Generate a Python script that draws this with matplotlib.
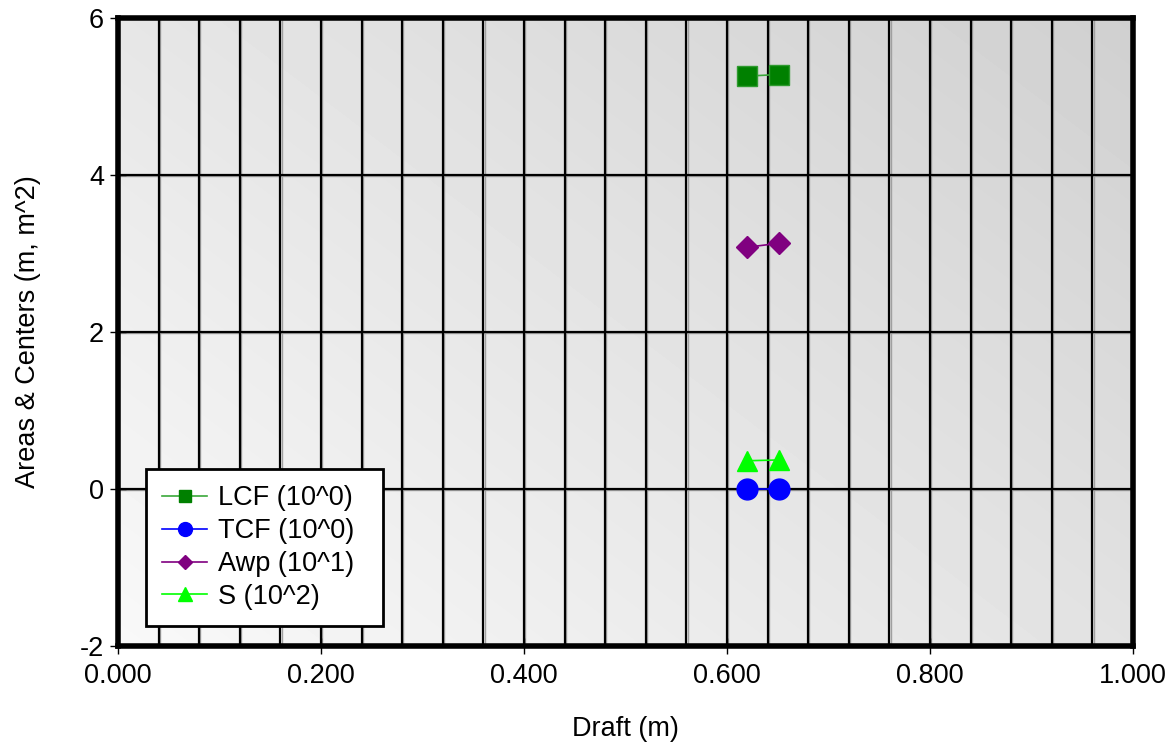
import matplotlib
matplotlib.use("Agg")
import matplotlib.pyplot as plt
import numpy as np
from matplotlib.lines import Line2D

plt.rcParams['font.family'] = ['Liberation Sans', 'DejaVu Sans']
plt.rcParams['axes.unicode_minus'] = False

draft = [0.620, 0.651]
lcf = [5.26, 5.28]
tcf = [0.0, 0.0]
awp = [3.08, 3.13]
s = [0.36, 0.37]

labels = ["LCF (10^0)", "TCF (10^0)", "Awp (10^1)", "S (10^2)"]
xticks = [0.0, 0.2, 0.4, 0.6, 0.8, 1.0]
xticklabels = ["0.000", "0.200", "0.400", "0.600", "0.800", "1.000"]
yticks = [-2, 0, 2, 4, 6]

FS = 19.5

fig = plt.figure(figsize=(11.75, 7.47), dpi=100)
ax = fig.add_axes([118/1175, 1-646/747, (1133-118)/1175, (646-18)/747])

# gradient background
n = 200
gx, gy = np.meshgrid(np.linspace(0, 1, n), np.linspace(0, 1, n))
g = 0.975 - 0.16 * (0.55 * gx + 0.45 * gy)
ax.imshow(g, extent=[0, 1, 0, 1], transform=ax.transAxes, origin='lower',
          cmap='gray', vmin=0, vmax=1, aspect='auto', zorder=0, interpolation='bilinear')

ax.set_xlim(0, 1.0)
ax.set_ylim(-2, 6)

# grid lines with shadow
for xv in np.arange(0.04, 1.0, 0.04):
    ax.axvline(xv + 0.0012, color='#a0a0a0', lw=1.0, zorder=1)
    ax.axvline(xv, color='black', lw=1.6, zorder=1.1)
for yv in [0, 2, 4]:
    ax.axhline(yv - 0.012, color='#a0a0a0', lw=1.0, zorder=1)
    ax.axhline(yv, color='black', lw=1.6, zorder=1.1)

ax.plot(draft, lcf, color='#3aa83a', lw=1.2, marker='s', ms=14, mfc='#008000', mec='#2f9a2f', mew=1,
        zorder=3, label=labels[0])
ax.plot(draft, tcf, color='#0000ff', lw=1.2, marker='o', ms=15, mfc='#0000ff', mec='#0000ff',
        zorder=3, label=labels[1])
ax.plot(draft, awp, color='#800080', lw=1.2, marker='D', ms=11, mfc='#800080', mec='#800080',
        zorder=3, label=labels[2])
ax.plot(draft, s, color='#00ff00', lw=1.2, marker='^', ms=15, mfc='#00ff00', mec='#00ff00',
        zorder=3, label=labels[3])

for sp in ax.spines.values():
    sp.set_linewidth(4)
    sp.set_color('black')
    sp.set_zorder(5)

ax.set_xticks(xticks)
ax.set_xticklabels(xticklabels)
ax.set_yticks(yticks)
ax.tick_params(direction='inout', length=12, width=1, labelsize=FS, pad=4)
ax.tick_params(axis='x', pad=6)

ax.set_xlabel("Draft (m)", fontsize=FS, labelpad=20)
ax.set_ylabel("Areas & Centers (m, m^2)", fontsize=FS, labelpad=28)

leg_handles = [
    Line2D([], [], color='#3aa83a', lw=1.2, marker='s', ms=9, mfc='#008000', mec='#008000'),
    Line2D([], [], color='#0000ff', lw=1.2, marker='o', ms=10, mfc='#0000ff', mec='#0000ff'),
    Line2D([], [], color='#800080', lw=1.2, marker='D', ms=7, mfc='#800080', mec='#800080'),
    Line2D([], [], color='#00ff00', lw=1.2, marker='^', ms=10, mfc='#00ff00', mec='#00ff00'),
]
leg = ax.legend(leg_handles, labels, loc='lower left',
                bbox_to_anchor=((146-118)/1015, (646-626)/628, (383-146)/1015, 0.01),
                mode='expand',
                fontsize=FS, frameon=True, fancybox=False, edgecolor='black', framealpha=1,
                handlelength=1.67, handletextpad=0.4, labelspacing=0.25, borderpad=0.6, borderaxespad=0)
leg.get_frame().set_linewidth(2)
leg.set_zorder(6)

fig.savefig("out.png", dpi=100, facecolor='white')
